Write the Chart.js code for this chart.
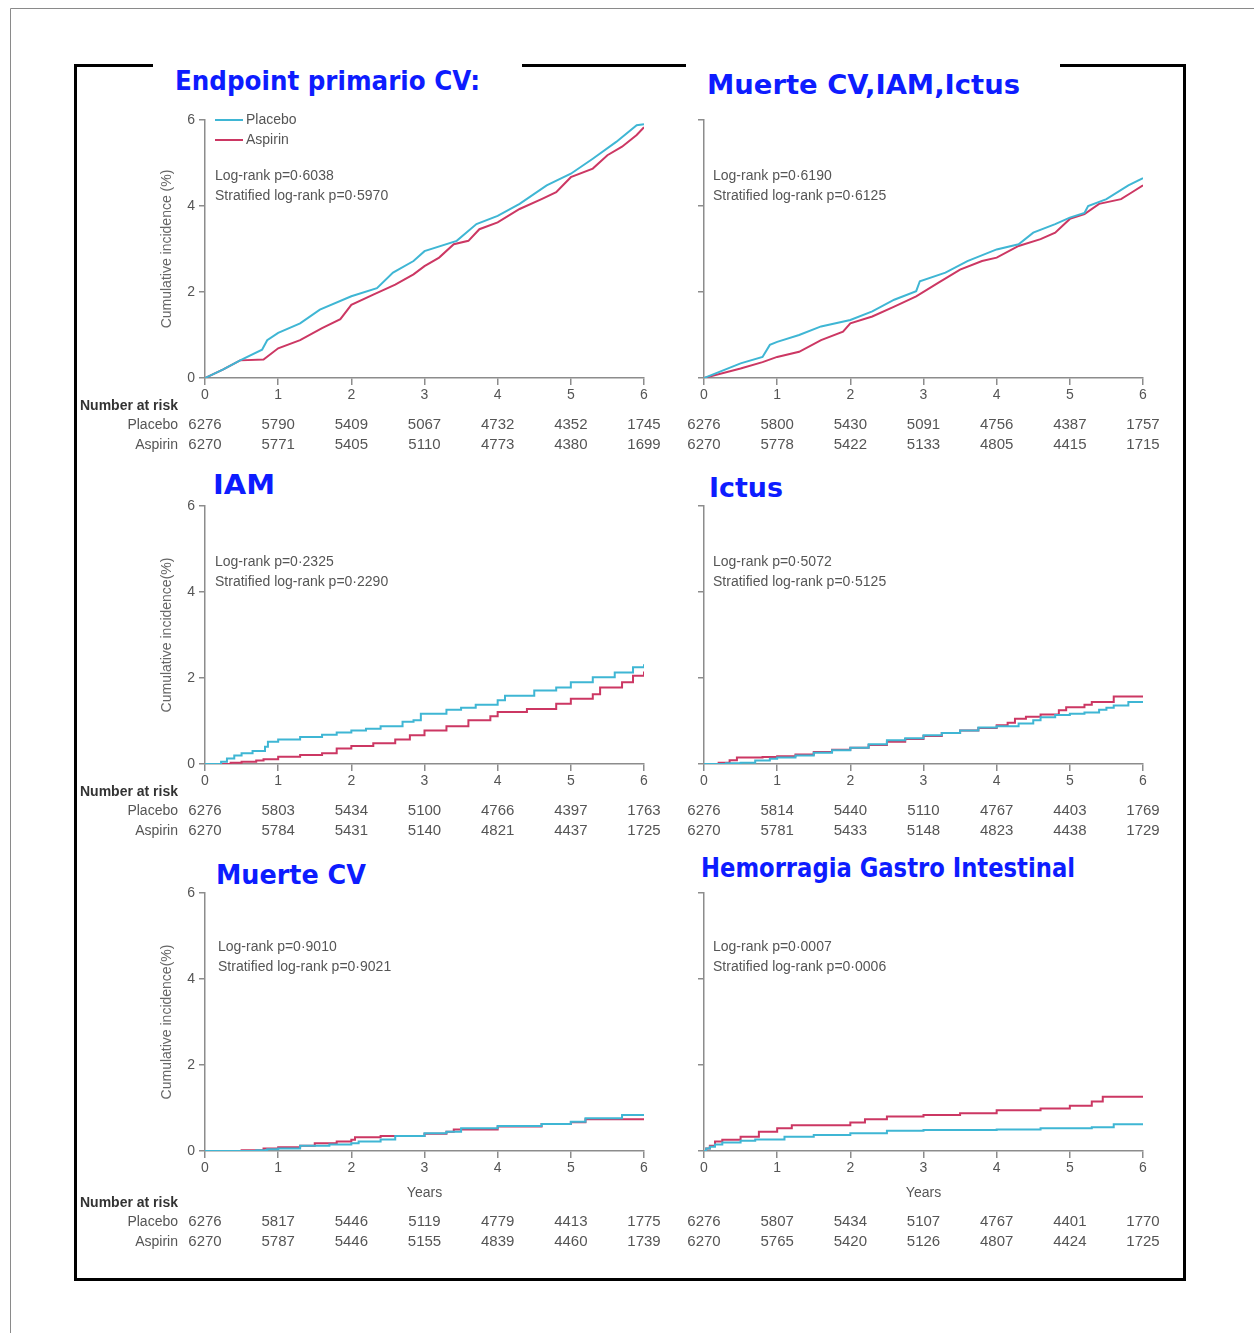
<!DOCTYPE html>
<html><head><meta charset="utf-8">
<script src="https://cdn.jsdelivr.net/npm/chart.js@4.4.1/dist/chart.umd.min.js"></script>
<style>
html,body{margin:0;padding:0;background:#fff;}
#page{position:relative;width:1254px;height:1333px;overflow:hidden;background:#fff;}
canvas{position:absolute;}
#deco{position:absolute;left:0;top:0;}
</style></head><body>
<div id="page">
<svg id="deco" width="1254" height="1333" xmlns="http://www.w3.org/2000/svg"></svg>
</div>
<script>
// ---------------- DATA ----------------
const years = [0, 1, 2, 3, 4, 5, 6];
const yTicks = [0, 2, 4, 6];
const seriesNames = ['Placebo', 'Aspirin'];
const panelTitles = ['Endpoint primario CV:', 'Muerte CV,IAM,Ictus', 'IAM', 'Ictus', 'Muerte CV', 'Hemorragia Gastro Intestinal'];
const yAxisTitles = ['Cumulative incidence (%)', '', 'Cumulative incidence(%)', '', 'Cumulative incidence(%)', ''];
const xAxisTitle = 'Years';
const riskHeader = 'Number at risk';

// [years, cumulative incidence %]
const primaryPlacebo = [[0,0],[0.25,0.2],[0.48,0.41],[0.78,0.66],[0.85,0.88],[1.0,1.05],[1.3,1.27],[1.57,1.59],[2.0,1.9],[2.35,2.09],[2.57,2.45],[2.85,2.72],[3.0,2.95],[3.44,3.19],[3.71,3.58],[4.0,3.77],[4.3,4.05],[4.67,4.48],[5.0,4.75],[5.3,5.1],[5.62,5.49],[5.9,5.88],[6.0,5.9]];
const primaryAspirin = [[0,0],[0.25,0.2],[0.48,0.41],[0.8,0.43],[1.0,0.69],[1.3,0.88],[1.6,1.16],[1.85,1.37],[2.0,1.7],[2.3,1.94],[2.6,2.17],[2.85,2.41],[3.0,2.6],[3.2,2.8],[3.4,3.11],[3.6,3.19],[3.75,3.46],[4.0,3.62],[4.3,3.93],[4.6,4.16],[4.8,4.32],[5.0,4.67],[5.3,4.87],[5.5,5.18],[5.7,5.38],[5.9,5.65],[6.0,5.83]];

const maccePlacebo = [[0,0],[0.5,0.34],[0.8,0.49],[0.9,0.77],[1.0,0.84],[1.3,1.0],[1.6,1.2],[2.0,1.35],[2.3,1.55],[2.6,1.82],[2.9,2.02],[2.95,2.25],[3.3,2.45],[3.6,2.72],[4.0,2.99],[4.3,3.11],[4.5,3.38],[4.8,3.58],[5.0,3.73],[5.2,3.84],[5.25,4.0],[5.5,4.16],[5.8,4.48],[6.0,4.65]];
const macceAspirin = [[0,0],[0.5,0.22],[0.8,0.37],[1.0,0.49],[1.3,0.61],[1.6,0.88],[1.9,1.08],[2.0,1.27],[2.3,1.43],[2.6,1.66],[2.9,1.9],[3.2,2.21],[3.5,2.52],[3.8,2.72],[4.0,2.8],[4.3,3.07],[4.6,3.23],[4.8,3.38],[5.0,3.7],[5.2,3.81],[5.4,4.05],[5.7,4.16],[5.85,4.32],[6.0,4.48]];

const miPlacebo = [[0,0],[0.17,0],[0.22,0.05],[0.3,0.13],[0.4,0.2],[0.5,0.25],[0.65,0.3],[0.82,0.4],[0.86,0.52],[1.0,0.57],[1.3,0.63],[1.6,0.68],[1.8,0.73],[2.0,0.78],[2.2,0.82],[2.4,0.88],[2.7,0.98],[2.85,1.02],[2.95,1.17],[3.3,1.26],[3.5,1.31],[3.7,1.38],[4.0,1.48],[4.1,1.59],[4.5,1.71],[4.8,1.78],[5.0,1.9],[5.3,2.02],[5.6,2.13],[5.85,2.25],[6.0,2.32]];
const miAspirin = [[0,0],[0.2,0],[0.35,0.03],[0.5,0.05],[0.7,0.08],[0.8,0.11],[1.0,0.17],[1.3,0.21],[1.6,0.25],[1.8,0.36],[2.0,0.42],[2.3,0.48],[2.6,0.57],[2.8,0.67],[3.0,0.78],[3.3,0.88],[3.6,1.02],[3.9,1.11],[4.0,1.21],[4.4,1.28],[4.8,1.4],[5.0,1.52],[5.3,1.62],[5.4,1.78],[5.7,1.9],[5.85,2.05],[6.0,2.15]];

const strokePlacebo = [[0,0],[0.3,0.02],[0.5,0.03],[0.7,0.08],[0.9,0.12],[1.0,0.15],[1.25,0.2],[1.5,0.26],[1.75,0.32],[2.0,0.38],[2.25,0.46],[2.5,0.55],[2.75,0.6],[3.0,0.67],[3.25,0.72],[3.5,0.78],[3.75,0.85],[4.0,0.88],[4.3,0.94],[4.5,1.02],[4.6,1.09],[4.8,1.14],[5.0,1.17],[5.2,1.2],[5.4,1.26],[5.5,1.31],[5.6,1.36],[5.8,1.44],[6.0,1.44]];
const strokeAspirin = [[0,0],[0.2,0.03],[0.35,0.09],[0.45,0.15],[0.8,0.16],[1.0,0.18],[1.25,0.22],[1.5,0.28],[1.75,0.33],[2.0,0.38],[2.25,0.44],[2.5,0.52],[2.75,0.58],[3.0,0.65],[3.25,0.72],[3.5,0.78],[3.75,0.84],[4.0,0.9],[4.15,0.96],[4.25,1.05],[4.4,1.1],[4.6,1.15],[4.85,1.25],[4.95,1.32],[5.2,1.38],[5.3,1.44],[5.6,1.57],[6.0,1.57]];

const cvDeathPlacebo = [[0,0],[0.7,0.02],[0.85,0.04],[1.0,0.06],[1.3,0.12],[1.7,0.15],[2.0,0.18],[2.1,0.22],[2.4,0.27],[2.6,0.35],[3.0,0.41],[3.3,0.45],[3.5,0.53],[4.0,0.58],[4.6,0.63],[5.0,0.68],[5.2,0.76],[5.7,0.84],[6.0,0.84]];
const cvDeathAspirin = [[0,0],[0.5,0.02],[0.8,0.06],[1.0,0.09],[1.3,0.12],[1.5,0.18],[1.8,0.22],[2.0,0.26],[2.05,0.32],[2.4,0.35],[3.0,0.4],[3.3,0.45],[3.4,0.5],[4.0,0.57],[4.6,0.63],[5.0,0.67],[5.2,0.74],[6.0,0.74]];

const giBleedPlacebo = [[0,0],[0.03,0.06],[0.08,0.1],[0.15,0.15],[0.25,0.2],[0.5,0.24],[0.7,0.27],[1.1,0.33],[1.5,0.37],[2.0,0.41],[2.5,0.47],[3.0,0.49],[4.0,0.5],[4.6,0.53],[5.3,0.55],[5.6,0.62],[6.0,0.62]];
const giBleedAspirin = [[0,0],[0.03,0.06],[0.08,0.12],[0.15,0.22],[0.25,0.26],[0.5,0.33],[0.75,0.45],[1.0,0.53],[1.2,0.6],[2.0,0.66],[2.2,0.74],[2.5,0.8],[3.0,0.84],[3.5,0.88],[4.0,0.95],[4.6,0.99],[5.0,1.05],[5.3,1.15],[5.45,1.26],[6.0,1.26]];

// numbers at risk at each year tick
const riskPrimaryPlacebo = [6276,5790,5409,5067,4732,4352,1745];
const riskPrimaryAspirin = [6270,5771,5405,5110,4773,4380,1699];
const riskMaccePlacebo = [6276,5800,5430,5091,4756,4387,1757];
const riskMacceAspirin = [6270,5778,5422,5133,4805,4415,1715];
const riskMiPlacebo = [6276,5803,5434,5100,4766,4397,1763];
const riskMiAspirin = [6270,5784,5431,5140,4821,4437,1725];
const riskStrokePlacebo = [6276,5814,5440,5110,4767,4403,1769];
const riskStrokeAspirin = [6270,5781,5433,5148,4823,4438,1729];
const riskCvDeathPlacebo = [6276,5817,5446,5119,4779,4413,1775];
const riskCvDeathAspirin = [6270,5787,5446,5155,4839,4460,1739];
const riskGiPlacebo = [6276,5807,5434,5107,4767,4401,1770];
const riskGiAspirin = [6270,5765,5420,5126,4807,4424,1725];

const pPrimary = ['Log-rank p=0·6038', 'Stratified log-rank p=0·5970'];
const pMacce = ['Log-rank p=0·6190', 'Stratified log-rank p=0·6125'];
const pMi = ['Log-rank p=0·2325', 'Stratified log-rank p=0·2290'];
const pStroke = ['Log-rank p=0·5072', 'Stratified log-rank p=0·5125'];
const pCvDeath = ['Log-rank p=0·9010', 'Stratified log-rank p=0·9021'];
const pGi = ['Log-rank p=0·0007', 'Stratified log-rank p=0·0006'];

// ---------------- STYLE / LAYOUT ----------------
const COLORS = ['#3fb6d4', '#cc3763'];
const AXIS = '#8c8c8c';
const TXT = '#555';
const FONT = '"Liberation Sans", Arial, sans-serif';

const panels = [
  {title:0, series:[primaryPlacebo, primaryAspirin], risk:[riskPrimaryPlacebo, riskPrimaryAspirin], p:pPrimary, side:0, row:0, stepped:false, legend:true},
  {title:1, series:[maccePlacebo, macceAspirin], risk:[riskMaccePlacebo, riskMacceAspirin], p:pMacce, side:1, row:0, stepped:false},
  {title:2, series:[miPlacebo, miAspirin], risk:[riskMiPlacebo, riskMiAspirin], p:pMi, side:0, row:1, stepped:true},
  {title:3, series:[strokePlacebo, strokeAspirin], risk:[riskStrokePlacebo, riskStrokeAspirin], p:pStroke, side:1, row:1, stepped:true},
  {title:4, series:[cvDeathPlacebo, cvDeathAspirin], risk:[riskCvDeathPlacebo, riskCvDeathAspirin], p:pCvDeath, side:0, row:2, stepped:true},
  {title:5, series:[giBleedPlacebo, giBleedAspirin], risk:[riskGiPlacebo, riskGiAspirin], p:pGi, side:1, row:2, stepped:true}
];

// title placement: [x, baseline, width]
const titleBoxes = [[175, 90, 305], [707, 94, 313], [213, 494, 62], [709, 497, 74], [216, 884, 150], [701, 877, 374]];
const rowTops = [100, 486, 873];
const rowHeights = [360, 360, 390];
const pvOffsets = [[10, 56], [9, 56], [10, 56], [9, 56], [13, 54], [9, 54]];

// ---------------- DECORATION (page edge, frame, titles) ----------------
const svgNS = 'http://www.w3.org/2000/svg';
const deco = document.getElementById('deco');
function addPath(d, stroke, w) {
  const p = document.createElementNS(svgNS, 'path');
  p.setAttribute('d', d); p.setAttribute('stroke', stroke); p.setAttribute('stroke-width', w);
  p.setAttribute('fill', 'none'); deco.appendChild(p);
}
addPath('M10.5,1333 V8.5 H1254', '#8a8a8a', 1);
addPath('M153,65.5 H75.5 V1279.5 H1184.5 V65.5 H1060', '#000', 3);
addPath('M522,65.5 H686', '#000', 3);
panelTitles.forEach((t, i) => {
  const [x, y, w] = titleBoxes[i];
  const el = document.createElementNS(svgNS, 'text');
  el.setAttribute('x', x); el.setAttribute('y', y);
  el.setAttribute('textLength', w); el.setAttribute('lengthAdjust', 'spacingAndGlyphs');
  el.setAttribute('font-family', '"DejaVu Sans", sans-serif');
  el.setAttribute('font-weight', 'bold'); el.setAttribute('font-size', '27');
  el.setAttribute('fill', '#0d1cff');
  el.textContent = t; deco.appendChild(el);
});

// ---------------- PLUGIN: p-values, legend, axis titles, risk table ----------------
const kmExtras = {
  id: 'kmExtras',
  afterDraw(chart, args, o) {
    const ctx = chart.ctx, ca = chart.chartArea, xs = chart.scales.x;
    ctx.save();
    ctx.textBaseline = 'middle';
    ctx.font = '14px ' + FONT;
    ctx.fillStyle = TXT; ctx.textAlign = 'left';
    o.p.forEach((t, i) => ctx.fillText(t, ca.left + o.pv[0], ca.top + o.pv[1] + i * 20));
    if (o.legend) {
      chart.data.datasets.forEach((ds, i) => {
        const y = ca.top + i * 20;
        ctx.strokeStyle = ds.borderColor; ctx.lineWidth = 2;
        ctx.beginPath(); ctx.moveTo(ca.left + 10, y); ctx.lineTo(ca.left + 38, y); ctx.stroke();
        ctx.fillStyle = TXT; ctx.fillText(ds.label, ca.left + 41, y);
      });
    }
    if (o.yTitle) {
      ctx.save();
      ctx.translate(ca.left - 38, (ca.top + ca.bottom) / 2);
      ctx.rotate(-Math.PI / 2);
      ctx.textAlign = 'center'; ctx.fillStyle = '#666';
      ctx.fillText(o.yTitle, 0, 0);
      ctx.restore();
    }
    let base = ca.bottom + 28;
    if (o.xTitle) {
      ctx.textAlign = 'center'; ctx.fillStyle = TXT;
      ctx.fillText(o.xTitle, (ca.left + ca.right) / 2, ca.bottom + 42);
      base = ca.bottom + 52;
    }
    if (o.rowLabels) {
      ctx.textAlign = 'right';
      ctx.font = 'bold 14px ' + FONT; ctx.fillStyle = '#333';
      ctx.fillText(riskHeader, ca.left - 27, base);
      ctx.font = '14px ' + FONT; ctx.fillStyle = TXT;
      seriesNames.forEach((n, i) => ctx.fillText(n, ca.left - 27, base + 19 + i * 20));
    }
    ctx.textAlign = 'center'; ctx.font = '15px ' + FONT; ctx.fillStyle = TXT;
    o.risk.forEach((row, r) => row.forEach((n, i) => {
      ctx.fillText(String(n), xs.getPixelForValue(years[i]), base + 19 + r * 20);
    }));
    ctx.restore();
  }
};

// ---------------- CHARTS ----------------
const page = document.getElementById('page');
panels.forEach((pn, idx) => {
  const left = pn.side === 0 ? 78 : 680;
  const width = pn.side === 0 ? 600 : 500;
  const top = rowTops[pn.row], height = rowHeights[pn.row];
  const cv = document.createElement('canvas');
  cv.width = width; cv.height = height;
  cv.style.left = left + 'px'; cv.style.top = top + 'px';
  cv.style.width = width + 'px'; cv.style.height = height + 'px';
  page.appendChild(cv);
  const yAxisW = pn.side === 0 ? 50 : 24;
  const padLeft = pn.side === 0 ? 77 : 0;
  const padRight = width - padLeft - yAxisW - 439;
  const padBottom = height - 278 - 32;
  new Chart(cv, {
    type: 'line',
    data: {
      datasets: pn.series.map((s, i) => ({
        label: seriesNames[i],
        data: s.map(([x, y]) => ({x, y})),
        borderColor: COLORS[i],
        borderWidth: 2,
        pointRadius: 0,
        tension: 0,
        fill: false,
        stepped: pn.stepped ? 'before' : false
      }))
    },
    options: {
      responsive: false,
      animation: false,
      devicePixelRatio: 1,
      layout: {padding: {left: padLeft, right: padRight, top: 20, bottom: padBottom}},
      plugins: {
        legend: {display: false},
        tooltip: {enabled: false},
        kmExtras: {
          p: pn.p, pv: pvOffsets[idx], legend: !!pn.legend,
          yTitle: yAxisTitles[idx], xTitle: pn.row === 2 ? xAxisTitle : '',
          rowLabels: pn.side === 0, risk: pn.risk
        }
      },
      scales: {
        x: {
          type: 'linear', min: 0, max: 6,
          afterBuildTicks: s => { s.ticks = years.map(v => ({value: v})); },
          afterFit: s => { s.height = 32; },
          ticks: {color: TXT, font: {size: 14, family: FONT}, padding: 2, maxRotation: 0},
          grid: {drawOnChartArea: false, drawTicks: true, tickLength: 7, color: AXIS, lineWidth: 1.5},
          border: {color: AXIS, width: 1.5}
        },
        y: {
          type: 'linear', min: 0, max: 6,
          afterBuildTicks: s => { s.ticks = yTicks.map(v => ({value: v})); },
          afterFit: s => { s.width = yAxisW; },
          ticks: {color: pn.side === 0 ? TXT : 'rgba(0,0,0,0)', font: {size: 14, family: FONT}, padding: 4},
          grid: {drawOnChartArea: false, drawTicks: true, tickLength: 6, color: AXIS, lineWidth: 1.5},
          border: {color: AXIS, width: 1.5}
        }
      }
    },
    plugins: [kmExtras]
  });
});
</script>
</body></html>
